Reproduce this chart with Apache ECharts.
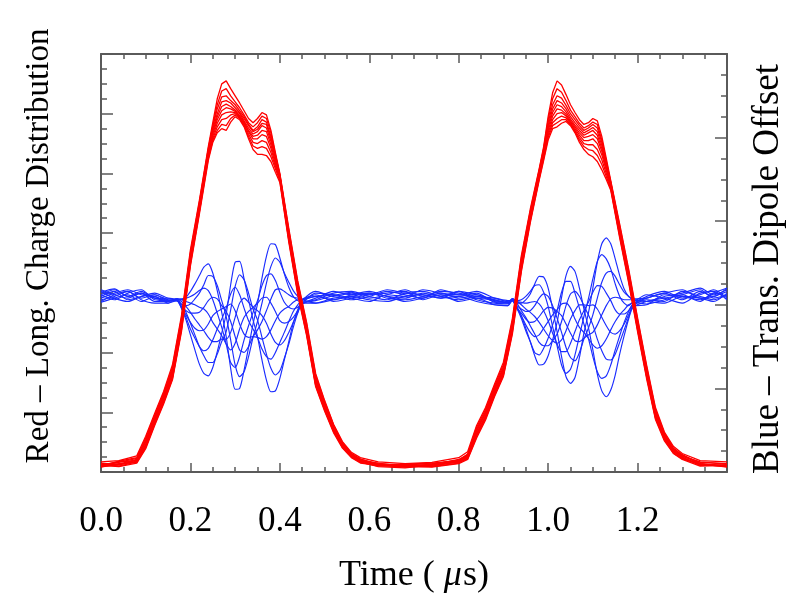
<!DOCTYPE html>
<html>
<head>
<meta charset="utf-8">
<script src="https://cdn.jsdelivr.net/npm/echarts@6/dist/echarts.min.js"></script>
<style>html,body{margin:0;padding:0;background:#fff;}#c{width:811px;height:599px;}</style>
</head>
<body>
<div id="c"></div>
<script>
// x tick labels
const xTickLabels = ['0.0','0.2','0.4','0.6','0.8','1.0','1.2'];

// Red: longitudinal charge distribution (left axis units)
const redT = [0,0.04,0.08,0.10,0.12,0.14,0.16,0.18,0.20,0.22,0.24,0.25,0.26,0.27,0.28,0.29,0.30,0.31,0.32,0.33,0.34,0.35,0.36,0.37,0.38,0.39,0.40,0.42,0.44,0.46,0.48,0.50,0.52,0.54,0.56,0.58,0.62,0.68,0.74,0.80,0.82,0.84,0.86,0.88,0.90,0.92,0.94,0.96,0.98,0.99,1.00,1.01,1.02,1.03,1.04,1.05,1.06,1.07,1.08,1.09,1.10,1.11,1.12,1.13,1.14,1.16,1.18,1.20,1.22,1.24,1.26,1.28,1.30,1.34,1.40];

const red1 = [0.17,0.19,0.27,0.60,0.98,1.35,1.80,2.62,3.72,4.55,5.45,
 5.85,6.25,6.50,6.55,6.42,6.30,6.18,6.05,5.92,5.85,5.92,6.02,5.98,5.72,5.35,5.00,
 4.08,3.20,2.50,1.65,1.20,0.80,0.51,0.33,0.24,0.17,0.14,0.16,0.24,0.34,0.78,1.08,1.47,1.84,2.57,3.62,4.40,5.08,
 5.45,5.95,6.35,6.55,6.48,6.32,6.15,6.02,5.90,5.82,5.85,5.92,5.88,5.62,5.25,4.88,
 4.15,3.40,2.58,1.80,1.08,0.67,0.43,0.31,0.19,0.17];
const red2 = [0.10,0.18,0.24,0.57,0.95,1.32,1.76,2.58,3.68,4.52,5.42,
 5.80,6.15,6.38,6.42,6.30,6.20,6.10,5.98,5.85,5.78,5.85,5.96,5.92,5.68,5.32,4.98,
 4.05,3.17,2.47,1.62,1.18,0.79,0.49,0.31,0.22,0.12,0.13,0.15,0.19,0.30,0.75,1.05,1.44,1.80,2.53,3.58,4.37,5.06,
 5.42,5.90,6.25,6.42,6.36,6.22,6.06,5.95,5.84,5.76,5.80,5.86,5.82,5.56,5.21,4.86,
 4.12,3.37,2.55,1.77,1.05,0.65,0.40,0.29,0.14,0.10];
const red3 = [0.15,0.12,0.20,0.54,0.92,1.29,1.72,2.55,3.65,4.49,5.39,
 5.78,6.08,6.28,6.30,6.22,6.15,6.05,5.95,5.82,5.72,5.78,5.90,5.86,5.62,5.30,4.97,
 4.02,3.14,2.44,1.59,1.16,0.77,0.48,0.29,0.19,0.15,0.09,0.12,0.21,0.29,0.72,1.02,1.41,1.76,2.50,3.55,4.34,5.04,
 5.40,5.85,6.15,6.30,6.26,6.14,6.00,5.90,5.80,5.72,5.76,5.82,5.76,5.52,5.18,4.85,
 4.09,3.34,2.52,1.74,1.02,0.63,0.39,0.26,0.17,0.13];
const red4 = [0.11,0.16,0.23,0.52,0.90,1.27,1.70,2.52,3.62,4.47,5.37,
 5.74,6.00,6.20,6.22,6.18,6.10,6.02,5.92,5.80,5.70,5.74,5.84,5.82,5.58,5.28,4.96,
 4.00,3.12,2.42,1.57,1.14,0.76,0.47,0.31,0.20,0.13,0.12,0.14,0.18,0.27,0.70,1.00,1.39,1.74,2.47,3.52,4.32,5.02,
 5.38,5.80,6.08,6.22,6.18,6.08,5.95,5.85,5.76,5.68,5.72,5.77,5.70,5.47,5.15,4.83,
 4.07,3.32,2.50,1.72,1.00,0.62,0.37,0.28,0.13,0.11];
const red5 = [0.14,0.13,0.21,0.50,0.88,1.25,1.68,2.50,3.60,4.45,5.35,
 5.70,5.95,6.12,6.16,6.12,6.06,6.00,5.88,5.76,5.66,5.70,5.80,5.76,5.54,5.25,4.95,
 3.98,3.10,2.40,1.55,1.12,0.74,0.46,0.30,0.21,0.14,0.10,0.13,0.20,0.28,0.68,0.98,1.37,1.72,2.45,3.50,4.30,5.00,
 5.35,5.76,6.02,6.15,6.12,6.03,5.91,5.81,5.72,5.64,5.68,5.72,5.64,5.42,5.12,4.82,
 4.05,3.30,2.48,1.70,0.98,0.60,0.38,0.27,0.16,0.14];
const red6 = [0.12,0.17,0.19,0.47,0.86,1.23,1.65,2.47,3.57,4.42,5.32,
 5.66,5.90,6.05,6.10,6.08,6.04,5.97,5.86,5.72,5.62,5.64,5.72,5.70,5.48,5.20,4.93,
 3.95,3.07,2.37,1.52,1.10,0.72,0.44,0.28,0.18,0.12,0.11,0.10,0.17,0.26,0.65,0.95,1.34,1.69,2.42,3.47,4.27,4.97,
 5.32,5.72,5.96,6.08,6.06,5.99,5.88,5.78,5.68,5.60,5.62,5.65,5.58,5.37,5.09,4.80,
 4.02,3.27,2.45,1.67,0.96,0.58,0.36,0.25,0.12,0.10];
const red7 = [0.09,0.12,0.18,0.45,0.84,1.20,1.62,2.44,3.54,4.40,5.30,
 5.62,5.84,5.98,6.02,6.03,6.02,5.95,5.84,5.70,5.58,5.58,5.65,5.62,5.42,5.16,4.92,
 3.93,3.05,2.35,1.50,1.08,0.71,0.43,0.27,0.19,0.11,0.08,0.11,0.18,0.25,0.63,0.93,1.32,1.67,2.40,3.44,4.25,4.95,
 5.30,5.68,5.90,6.00,6.02,5.96,5.86,5.75,5.64,5.55,5.55,5.58,5.50,5.31,5.05,4.78,
 4.00,3.25,2.43,1.65,0.94,0.57,0.35,0.23,0.14,0.08];
const red8 = [0.13,0.10,0.17,0.43,0.82,1.18,1.59,2.41,3.51,4.37,5.28,
 5.58,5.78,5.90,5.92,5.98,6.00,5.94,5.82,5.66,5.52,5.50,5.55,5.52,5.35,5.12,4.90,
 3.90,3.02,2.32,1.47,1.06,0.69,0.42,0.26,0.16,0.10,0.12,0.09,0.15,0.24,0.61,0.91,1.30,1.64,2.37,3.41,4.22,4.93,
 5.28,5.64,5.85,5.92,5.96,5.93,5.84,5.72,5.60,5.50,5.48,5.48,5.40,5.23,5.00,4.76,
 3.97,3.22,2.40,1.62,0.92,0.55,0.34,0.24,0.11,0.12];
const red9 = [0.08,0.14,0.16,0.41,0.80,1.16,1.57,2.38,3.48,4.35,5.25,
 5.55,5.72,5.82,5.80,5.92,5.98,5.92,5.80,5.62,5.46,5.42,5.45,5.42,5.28,5.08,4.88,
 3.88,3.00,2.30,1.45,1.04,0.68,0.41,0.25,0.17,0.09,0.07,0.12,0.16,0.22,0.59,0.89,1.28,1.62,2.34,3.38,4.20,4.91,
 5.25,5.60,5.80,5.85,5.90,5.90,5.82,5.70,5.56,5.45,5.40,5.38,5.30,5.15,4.95,4.74,
 3.95,3.20,2.38,1.60,0.90,0.54,0.32,0.22,0.13,0.09];
const red10 = [0.11,0.09,0.15,0.39,0.78,1.14,1.55,2.35,3.45,4.32,5.22,
 5.52,5.68,5.75,5.72,5.86,5.95,5.90,5.78,5.58,5.40,5.32,5.32,5.30,5.20,5.02,4.85,
 3.85,2.97,2.28,1.43,1.02,0.66,0.40,0.24,0.15,0.11,0.09,0.08,0.14,0.21,0.57,0.87,1.26,1.60,2.31,3.35,4.17,4.89,
 5.22,5.56,5.75,5.78,5.84,5.87,5.80,5.68,5.52,5.40,5.32,5.28,5.20,5.06,4.90,4.72,
 3.92,3.17,2.35,1.57,0.88,0.52,0.31,0.21,0.10,0.11];

// Blue: transverse dipole offset (right axis units)
const blueT = [0,0.03,0.06,0.09,0.12,0.15,
 0.17,0.18,0.19,0.20,0.21,0.22,0.23,0.24,0.25,0.26,0.27,0.28,0.29,0.30,0.31,0.32,0.33,0.34,0.35,0.36,0.37,0.38,0.39,0.40,0.41,0.42,0.43,0.44,0.45,
 0.48,0.52,0.56,0.60,0.64,0.68,0.72,0.76,0.80,0.84,0.88,0.91,
 0.92,0.93,0.94,0.95,0.96,0.97,0.98,0.99,1.00,1.01,1.02,1.03,1.04,1.05,1.06,1.07,1.08,1.09,1.10,1.11,1.12,1.13,1.14,1.15,1.16,1.17,1.18,1.19,
 1.22,1.26,1.30,1.34,1.37,1.40];

const blue1 = [2.15,2.19,2.10,2.16,2.08,2.07,
 2.06,2.06,2.09,2.16,2.25,2.35,2.45,2.49,2.38,2.17,1.91,1.62,1.24,0.99,1.00,1.22,1.49,1.77,2.01,2.32,2.58,2.73,2.72,2.56,2.37,2.21,2.10,2.05,2.03,
 2.05,2.11,2.15,2.08,2.12,2.18,2.10,2.14,2.08,2.12,2.05,2.03,
 2.06,2.02,2.02,2.06,2.13,2.25,2.34,2.33,2.20,1.95,1.68,1.38,1.14,1.06,1.13,1.37,1.66,1.90,2.20,2.51,2.73,2.80,2.73,2.55,2.35,2.19,2.10,2.07,
 2.08,2.14,2.06,2.16,2.10,2.20];
const blue2 = [2.06,2.10,2.16,2.08,2.12,2.05,
 2.05,2.01,1.99,2.01,2.07,2.14,2.24,2.35,2.34,2.23,2.05,1.86,1.58,1.28,1.14,1.20,1.38,1.61,1.80,2.02,2.26,2.46,2.56,2.51,2.38,2.27,2.17,2.10,2.06,
 2.10,2.06,2.12,2.16,2.10,2.08,2.14,2.10,2.16,2.06,2.02,2.01,
 2.07,2.05,2.06,2.10,2.16,2.23,2.24,2.15,1.98,1.74,1.51,1.28,1.18,1.23,1.40,1.63,1.86,2.07,2.31,2.52,2.60,2.55,2.43,2.25,2.10,2.02,1.99,2.03,
 2.01,2.06,2.12,2.04,2.14,2.10];
const blue3 = [2.18,2.12,2.08,2.14,2.04,2.04,
 2.07,2.07,2.08,2.10,2.13,2.17,2.20,2.17,2.06,1.90,1.73,1.53,1.31,1.25,1.38,1.58,1.75,1.91,2.05,2.23,2.35,2.37,2.29,2.15,2.03,1.97,1.95,1.97,2.02,
 2.14,2.12,2.06,2.10,2.16,2.12,2.08,2.18,2.12,2.10,2.08,2.05,
 2.05,1.99,1.95,1.92,1.93,1.99,2.08,2.13,2.10,1.99,1.84,1.67,1.49,1.37,1.33,1.43,1.59,1.72,1.88,2.08,2.27,2.38,2.40,2.34,2.24,2.15,2.10,2.06,
 2.04,2.02,2.10,2.08,2.04,2.14];
const blue4 = [2.03,2.08,2.12,2.04,2.10,2.02,
 2.05,1.98,1.93,1.90,1.90,1.91,1.97,2.05,2.09,2.07,1.99,1.92,1.80,1.62,1.46,1.43,1.50,1.62,1.70,1.80,1.93,2.07,2.18,2.19,2.16,2.12,2.09,2.08,2.06,
 2.02,2.08,2.10,2.06,2.04,2.10,2.12,2.08,2.10,2.04,2.00,1.99,
 2.07,2.04,2.03,2.02,2.03,2.04,2.01,1.93,1.81,1.66,1.53,1.44,1.44,1.54,1.68,1.82,1.93,2.03,2.15,2.23,2.22,2.14,2.05,1.94,1.89,1.89,1.93,2.01,
 2.10,2.16,2.08,2.12,2.18,2.08];
const blue5 = [2.10,2.16,2.06,2.10,2.14,2.08,
 2.07,2.06,2.04,2.02,2.00,1.97,1.95,1.89,1.79,1.71,1.63,1.53,1.46,1.54,1.71,1.85,1.92,1.97,2.02,2.08,2.09,2.02,1.92,1.81,1.78,1.80,1.85,1.93,2.01,
 2.08,2.16,2.12,2.14,2.08,2.06,2.10,2.16,2.14,2.08,2.06,2.02,
 2.05,1.96,1.90,1.83,1.79,1.80,1.86,1.93,1.97,1.96,1.92,1.87,1.77,1.66,1.57,1.56,1.60,1.64,1.67,1.76,1.88,1.99,2.07,2.09,2.08,2.06,2.06,2.06,
 2.04,2.10,2.14,2.20,2.12,2.18];
const blue6 = [2.12,2.06,2.14,2.18,2.06,2.05,
 2.05,1.97,1.88,1.79,1.72,1.69,1.70,1.77,1.87,1.92,1.95,1.98,2.01,1.93,1.77,1.65,1.61,1.62,1.61,1.59,1.62,1.70,1.81,1.90,1.95,1.98,2.03,2.06,2.07,
 2.12,2.04,2.08,2.12,2.14,2.16,2.06,2.12,2.10,2.14,2.03,2.02,
 2.07,2.04,2.00,1.95,1.91,1.86,1.79,1.71,1.63,1.57,1.54,1.58,1.69,1.83,1.93,2.00,2.00,1.99,2.00,1.95,1.85,1.75,1.67,1.65,1.69,1.77,1.88,1.99,
 2.06,2.04,2.16,2.10,2.06,2.12];
const blue7 = [2.08,2.14,2.18,2.12,2.10,2.04,
 2.07,2.04,1.98,1.91,1.83,1.76,1.69,1.61,1.56,1.56,1.59,1.59,1.67,1.85,2.02,2.08,2.03,1.97,1.93,1.87,1.78,1.65,1.55,1.52,1.57,1.67,1.79,1.91,2.02,
 2.06,2.14,2.16,2.10,2.06,2.14,2.16,2.10,2.06,2.10,2.04,2.03,
 2.05,1.96,1.87,1.76,1.67,1.62,1.64,1.72,1.80,1.88,1.94,2.01,2.02,1.96,1.83,1.73,1.67,1.60,1.52,1.48,1.51,1.59,1.70,1.80,1.88,1.94,2.00,2.03,
 2.12,2.08,2.02,2.14,2.16,2.06];
const blue8 = [2.16,2.08,2.04,2.10,2.12,2.06,
 2.05,1.96,1.85,1.71,1.60,1.50,1.45,1.48,1.58,1.71,1.83,1.96,2.13,2.21,2.12,1.96,1.81,1.71,1.61,1.47,1.38,1.35,1.43,1.55,1.67,1.80,1.92,2.00,2.06,
 2.10,2.12,2.08,2.04,2.12,2.10,2.18,2.14,2.12,2.16,2.08,2.04,
 2.07,2.02,1.93,1.85,1.75,1.65,1.55,1.51,1.51,1.57,1.65,1.80,1.99,2.13,2.16,2.10,1.99,1.88,1.76,1.59,1.45,1.35,1.34,1.41,1.55,1.70,1.85,1.98,
 2.00,2.12,2.10,2.06,2.14,2.20];
const blue9 = [2.04,2.12,2.16,2.06,2.02,2.02,
 2.07,2.00,1.91,1.78,1.64,1.50,1.39,1.31,1.31,1.41,1.56,1.68,1.94,2.22,2.36,2.30,2.14,1.95,1.82,1.61,1.41,1.24,1.16,1.21,1.36,1.53,1.73,1.90,2.02,
 2.02,2.06,2.10,2.14,2.10,2.04,2.08,2.12,2.04,2.08,2.00,1.99,
 2.05,1.96,1.84,1.69,1.56,1.43,1.40,1.48,1.60,1.76,1.93,2.15,2.28,2.28,2.14,1.96,1.77,1.60,1.38,1.20,1.12,1.15,1.28,1.46,1.63,1.79,1.92,2.01,
 2.08,2.14,2.18,2.08,2.10,2.16];
const blue10 = [2.12,2.18,2.10,2.14,2.08,2.05,
 2.06,1.96,1.82,1.64,1.46,1.29,1.18,1.15,1.25,1.44,1.66,1.89,2.24,2.51,2.52,2.31,2.06,1.82,1.62,1.34,1.10,0.96,0.97,1.12,1.34,1.56,1.78,1.94,2.05,
 2.16,2.10,2.14,2.12,2.18,2.14,2.12,2.08,2.16,2.12,2.06,2.03,
 2.06,1.98,1.87,1.72,1.56,1.39,1.28,1.29,1.39,1.58,1.79,2.09,2.35,2.46,2.40,2.20,1.95,1.73,1.46,1.17,0.97,0.90,0.98,1.16,1.41,1.63,1.83,1.97,
 2.04,2.08,2.12,2.18,2.08,2.12];

const redTraces = [red1,red2,red3,red4,red5,red6,red7,red8,red9,red10];
const blueTraces = [blue1,blue2,blue3,blue4,blue5,blue6,blue7,blue8,blue9,blue10];

const FONT = "'Liberation Serif','Times New Roman','DejaVu Serif',serif";
const AX = '#5a5a5a';

function frameAxis(extra) {
  return Object.assign({
    type: 'value',
    axisLine: { show: true, onZero: false, lineStyle: { color: AX, width: 2 } },
    axisTick: { show: true, inside: true, length: 12, lineStyle: { color: AX, width: 1.5 } },
    minorTick: { show: true, splitNumber: 4, length: 6, lineStyle: { color: AX, width: 1.5 } },
    splitLine: { show: false },
    minorSplitLine: { show: false },
    axisLabel: { show: false }
  }, extra);
}

const series = [];
blueTraces.forEach(tr => series.push({
  type: 'line', xAxisIndex: 0, yAxisIndex: 1, showSymbol: false, smooth: 0.25,
  lineStyle: { color: '#1a2cff', width: 1.15 }, silent: true,
  data: tr.map((v, i) => [blueT[i], v])
}));
redTraces.forEach(tr => series.push({
  type: 'line', xAxisIndex: 0, yAxisIndex: 0, showSymbol: false,
  lineStyle: { color: '#ff0000', width: 1.3 }, silent: true,
  data: tr.map((v, i) => [redT[i], v])
}));

const chart = echarts.init(document.getElementById('c'), null, { renderer: 'canvas' });
chart.setOption({
  animation: false,
  backgroundColor: '#fff',
  grid: { left: 101, right: 84, top: 54, bottom: 125, containLabel: false },
  xAxis: [
    frameAxis({
      min: 0, max: 1.4, interval: 0.2, position: 'bottom',
      axisTick: { show: true, inside: true, length: 9, lineStyle: { color: AX, width: 1.5 } },
      minorTick: { show: true, splitNumber: 4, length: 5, lineStyle: { color: AX, width: 1.5 } },
      axisLabel: {
        show: true, margin: 32, color: '#000', fontSize: 35, fontFamily: FONT,
        formatter: v => { const i = Math.round(v / 0.2); return i < xTickLabels.length ? xTickLabels[i] : ''; }
      },
      name: '{n|Time (}{i|μ}{n|s)}', nameLocation: 'middle', nameGap: 86,
      nameTextStyle: { rich: {
        n: { fontSize: 36, fontFamily: FONT, color: '#000' },
        i: { fontSize: 36, fontFamily: FONT, color: '#000', fontStyle: 'italic', padding: [0, 1, 0, 9] }
      } }
    }),
    frameAxis({
      min: 0, max: 1.4, interval: 0.2, position: 'top',
      axisTick: { show: true, inside: true, length: 9, lineStyle: { color: AX, width: 1.5 } },
      minorTick: { show: true, splitNumber: 4, length: 5, lineStyle: { color: AX, width: 1.5 } }
    })
  ],
  yAxis: [
    frameAxis({
      min: 0, max: 7, interval: 1, position: 'left',
      name: 'Red – Long. Charge Distribution', nameLocation: 'middle', nameRotate: 90, nameGap: 45,
      nameTextStyle: { fontSize: 33, fontFamily: FONT, color: '#000', padding: [0, 0, 0, 34] }
    }),
    frameAxis({
      min: 0, max: 5, interval: 1, position: 'right',
      name: 'Blue – Trans. Dipole Offset', nameLocation: 'middle', nameRotate: 90, nameGap: 23,
      nameTextStyle: { fontSize: 37, fontFamily: FONT, color: '#000', padding: [0, 12, 0, 0] }
    })
  ],
  series: series
});
</script>
</body>
</html>
